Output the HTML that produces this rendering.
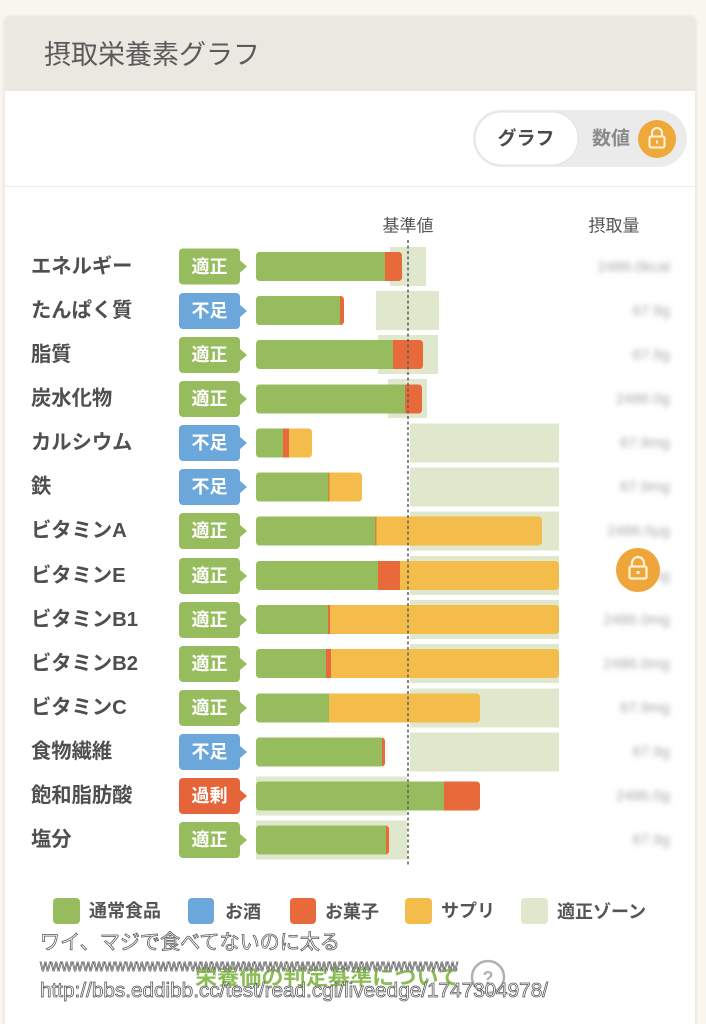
<!DOCTYPE html>
<html><head><meta charset="utf-8">
<style>
html,body{margin:0;padding:0;background:#f9f6ef;}
svg{display:block;}
text{font-family:"Liberation Sans","Noto Sans CJK JP",sans-serif;}
</style></head>
<body>
<svg width="706" height="1024" viewBox="0 0 706 1024" xmlns="http://www.w3.org/2000/svg">
<defs>
<filter id="bl" x="-20%" y="-60%" width="140%" height="220%"><feGaussianBlur stdDeviation="2.6"/></filter>
<filter id="sh" x="-5%" y="-5%" width="110%" height="110%"><feGaussianBlur stdDeviation="1.5"/></filter>
</defs>
<rect width="706" height="1024" fill="#f9f6ef"/>
<!-- card -->
<rect x="4" y="16" width="692" height="1030" rx="5" fill="#e6e2d8" filter="url(#sh)"/>
<rect x="5" y="17" width="690" height="1030" rx="4" fill="#ffffff"/>
<path d="M5 91 V21 a4 4 0 0 1 4 -4 H691 a4 4 0 0 1 4 4 V91 Z" fill="#ebe8e1"/>
<text x="44" y="55" font-size="27" fill="#5a5a5a" dominant-baseline="central">摂取栄養素グラフ</text>

<!-- toggle -->
<rect x="473" y="110" width="214" height="57" rx="28.5" fill="#ebebeb"/>
<rect x="475" y="112" width="103" height="53" rx="26.5" fill="#ffffff" stroke="#e2e2e2" stroke-width="1"/>
<text x="526" y="139" font-size="19" font-weight="bold" fill="#4a4a4a" text-anchor="middle" dominant-baseline="central">グラフ</text>
<text x="611" y="139" font-size="19" font-weight="bold" fill="#8a8a8a" text-anchor="middle" dominant-baseline="central">数値</text>
<circle cx="657" cy="139" r="19" fill="#efa83a"/>
<path d="M652 137 v-4 a5 5 0 0 1 10 0 v4" fill="none" stroke="#fff5dc" stroke-width="2"/>
<rect x="649.5" y="136.5" width="15" height="11" rx="1.5" fill="none" stroke="#fff5dc" stroke-width="2"/>
<rect x="656" y="140.5" width="2" height="3" fill="#fff5dc"/>

<line x1="5" y1="186.5" x2="695" y2="186.5" stroke="#ececec" stroke-width="1"/>

<text x="408" y="226" font-size="17" fill="#555" text-anchor="middle" dominant-baseline="central">基準値</text>
<text x="614" y="226" font-size="17" fill="#555" text-anchor="middle" dominant-baseline="central">摂取量</text>

<!-- zones -->
<g fill="#dfe8cd">
<rect x="390" y="247" width="36" height="39"/>
<rect x="376" y="291" width="63" height="39"/>
<rect x="378" y="335" width="60" height="39"/>
<rect x="388" y="379" width="39" height="39"/>
<rect x="410" y="423.5" width="149" height="39"/>
<rect x="410" y="467.5" width="149" height="39"/>
<rect x="410" y="511.5" width="149" height="39"/>
<rect x="410" y="556" width="149" height="39"/>
<rect x="410" y="600" width="149" height="39"/>
<rect x="410" y="644" width="149" height="39"/>
<rect x="410" y="688.5" width="149" height="39"/>
<rect x="410" y="732.5" width="149" height="39"/>
<rect x="256" y="776.5" width="151" height="39"/>
<rect x="256" y="820.5" width="151" height="39"/>
</g>

<!-- bars -->
<g>
<clipPath id="c1"><rect x="256" y="252" width="146" height="29" rx="3.5"/></clipPath>
<g clip-path="url(#c1)"><rect x="256" y="252" width="129" height="29" fill="#97bc5d"/><rect x="385" y="252" width="17" height="29" fill="#e8693a"/></g>

<clipPath id="c2"><rect x="256" y="296" width="88" height="29" rx="3.5"/></clipPath>
<g clip-path="url(#c2)"><rect x="256" y="296" width="84" height="29" fill="#97bc5d"/><rect x="340" y="296" width="4" height="29" fill="#e8693a"/></g>

<clipPath id="c3"><rect x="256" y="340" width="167" height="29" rx="3.5"/></clipPath>
<g clip-path="url(#c3)"><rect x="256" y="340" width="137" height="29" fill="#97bc5d"/><rect x="393" y="340" width="30" height="29" fill="#e8693a"/></g>

<clipPath id="c4"><rect x="256" y="384.5" width="166" height="29" rx="3.5"/></clipPath>
<g clip-path="url(#c4)"><rect x="256" y="384.5" width="149" height="29" fill="#97bc5d"/><rect x="405" y="384.5" width="17" height="29" fill="#e8693a"/></g>

<clipPath id="c5"><rect x="256" y="428.5" width="56" height="29" rx="3.5"/></clipPath>
<g clip-path="url(#c5)"><rect x="256" y="428.5" width="27" height="29" fill="#97bc5d"/><rect x="283" y="428.5" width="6" height="29" fill="#e8693a"/><rect x="289" y="428.5" width="23" height="29" fill="#f4bd4b"/></g>

<clipPath id="c6"><rect x="256" y="472.5" width="106" height="29" rx="3.5"/></clipPath>
<g clip-path="url(#c6)"><rect x="256" y="472.5" width="72" height="29" fill="#97bc5d"/><rect x="328" y="472.5" width="1.5" height="29" fill="#c9893f"/><rect x="329.5" y="472.5" width="33" height="29" fill="#f4bd4b"/></g>

<clipPath id="c7"><rect x="256" y="516.5" width="286" height="29" rx="3.5"/></clipPath>
<g clip-path="url(#c7)"><rect x="256" y="516.5" width="119" height="29" fill="#97bc5d"/><rect x="375" y="516.5" width="1.5" height="29" fill="#c9893f"/><rect x="376.5" y="516.5" width="166" height="29" fill="#f4bd4b"/></g>

<clipPath id="c8"><rect x="256" y="561" width="303" height="29" rx="3.5"/></clipPath>
<g clip-path="url(#c8)"><rect x="256" y="561" width="122" height="29" fill="#97bc5d"/><rect x="378" y="561" width="22" height="29" fill="#e8693a"/><rect x="400" y="561" width="159" height="29" fill="#f4bd4b"/></g>

<clipPath id="c9"><rect x="256" y="605" width="303" height="29" rx="3.5"/></clipPath>
<g clip-path="url(#c9)"><rect x="256" y="605" width="72" height="29" fill="#97bc5d"/><rect x="328" y="605" width="2" height="29" fill="#e8693a"/><rect x="330" y="605" width="229" height="29" fill="#f4bd4b"/></g>

<clipPath id="c10"><rect x="256" y="649" width="303" height="29" rx="3.5"/></clipPath>
<g clip-path="url(#c10)"><rect x="256" y="649" width="70" height="29" fill="#97bc5d"/><rect x="326" y="649" width="5" height="29" fill="#e8693a"/><rect x="331" y="649" width="228" height="29" fill="#f4bd4b"/></g>

<clipPath id="c11"><rect x="256" y="693.5" width="224" height="29" rx="3.5"/></clipPath>
<g clip-path="url(#c11)"><rect x="256" y="693.5" width="73" height="29" fill="#97bc5d"/><rect x="329" y="693.5" width="151" height="29" fill="#f4bd4b"/></g>

<clipPath id="c12"><rect x="256" y="737.5" width="129" height="29" rx="3.5"/></clipPath>
<g clip-path="url(#c12)"><rect x="256" y="737.5" width="126" height="29" fill="#97bc5d"/><rect x="382" y="737.5" width="3" height="29" fill="#e8693a"/></g>

<clipPath id="c13"><rect x="256" y="781.5" width="224" height="29" rx="3.5"/></clipPath>
<g clip-path="url(#c13)"><rect x="256" y="781.5" width="188" height="29" fill="#97bc5d"/><rect x="444" y="781.5" width="36" height="29" fill="#e8693a"/></g>

<clipPath id="c14"><rect x="256" y="825.5" width="133" height="29" rx="3.5"/></clipPath>
<g clip-path="url(#c14)"><rect x="256" y="825.5" width="130" height="29" fill="#97bc5d"/><rect x="386" y="825.5" width="3" height="29" fill="#e8693a"/></g>
</g>

<!-- dashed reference line -->
<line x1="408" y1="240" x2="408" y2="866" stroke="#5e5e5e" stroke-width="1.5" stroke-dasharray="3,2.5"/>

<!-- labels -->
<g font-size="20.3" font-weight="bold" fill="#4f4f4f" dominant-baseline="central">
<text x="31" y="267">エネルギー</text>
<text x="31" y="311">たんぱく質</text>
<text x="31" y="355">脂質</text>
<text x="31" y="399">炭水化物</text>
<text x="31" y="443">カルシウム</text>
<text x="31" y="487">鉄</text>
<text x="31" y="531">ビタミンA</text>
<text x="31" y="576">ビタミンE</text>
<text x="31" y="620">ビタミンB1</text>
<text x="31" y="664">ビタミンB2</text>
<text x="31" y="708">ビタミンC</text>
<text x="31" y="752">食物繊維</text>
<text x="31" y="796">飽和脂肪酸</text>
<text x="31" y="840">塩分</text>
</g>

<!-- badges -->
<g>
<g fill="#97bc5d">
<rect x="179" y="248.5" width="61" height="36" rx="4"/><path d="M239 259.5 L247 266.5 L239 273.5Z"/>
<rect x="179" y="337" width="61" height="36" rx="4"/><path d="M239 348 L247 355 L239 362Z"/>
<rect x="179" y="381" width="61" height="36" rx="4"/><path d="M239 392 L247 399 L239 406Z"/>
<rect x="179" y="513" width="61" height="36" rx="4"/><path d="M239 524 L247 531 L239 538Z"/>
<rect x="179" y="558" width="61" height="36" rx="4"/><path d="M239 569 L247 576 L239 583Z"/>
<rect x="179" y="602" width="61" height="36" rx="4"/><path d="M239 613 L247 620 L239 627Z"/>
<rect x="179" y="646" width="61" height="36" rx="4"/><path d="M239 657 L247 664 L239 671Z"/>
<rect x="179" y="690" width="61" height="36" rx="4"/><path d="M239 701 L247 708 L239 715Z"/>
<rect x="179" y="822" width="61" height="36" rx="4"/><path d="M239 833 L247 840 L239 847Z"/>
</g>
<g fill="#6ca7dc">
<rect x="179" y="293" width="61" height="36" rx="4"/><path d="M239 304 L247 311 L239 318Z"/>
<rect x="179" y="425" width="61" height="36" rx="4"/><path d="M239 436 L247 443 L239 450Z"/>
<rect x="179" y="469" width="61" height="36" rx="4"/><path d="M239 480 L247 487 L239 494Z"/>
<rect x="179" y="734" width="61" height="36" rx="4"/><path d="M239 745 L247 752 L239 759Z"/>
</g>
<g fill="#e5643a">
<rect x="179" y="778" width="61" height="36" rx="4"/><path d="M239 789 L247 796 L239 803Z"/>
</g>
<g font-size="18" font-weight="bold" fill="#ffffff" text-anchor="middle" dominant-baseline="central">
<text x="209.5" y="267">適正</text>
<text x="209.5" y="311">不足</text>
<text x="209.5" y="355">適正</text>
<text x="209.5" y="399">適正</text>
<text x="209.5" y="443">不足</text>
<text x="209.5" y="487">不足</text>
<text x="209.5" y="531">適正</text>
<text x="209.5" y="576">適正</text>
<text x="209.5" y="620">適正</text>
<text x="209.5" y="664">適正</text>
<text x="209.5" y="708">適正</text>
<text x="209.5" y="752">不足</text>
<text x="209.5" y="796">過剰</text>
<text x="209.5" y="840">適正</text>
</g>
</g>

<!-- blurred values -->
<g font-size="15" fill="#a8a8a8" text-anchor="end" dominant-baseline="central" filter="url(#bl)">
<text x="670" y="267">2486.0kcal</text>
<text x="670" y="311">67.9g</text>
<text x="670" y="355">67.9g</text>
<text x="670" y="399">2486.0g</text>
<text x="670" y="443">67.9mg</text>
<text x="670" y="487">67.9mg</text>
<text x="670" y="531">2486.0μg</text>
<text x="670" y="576">67.9mg</text>
<text x="670" y="620">2486.0mg</text>
<text x="670" y="664">2486.0mg</text>
<text x="670" y="708">67.9mg</text>
<text x="670" y="752">67.9g</text>
<text x="670" y="796">2486.0g</text>
<text x="670" y="840">67.9g</text>
</g>
<circle cx="638" cy="570" r="22" fill="#eea63a"/>
<path d="M632 567 v-4 a6 6 0 0 1 12 0 v4" fill="none" stroke="#fff3d6" stroke-width="2.2"/>
<rect x="629.5" y="566.5" width="17" height="12" rx="1.5" fill="none" stroke="#fff3d6" stroke-width="2.2"/>
<rect x="636.5" y="571" width="3" height="3" fill="#fff3d6"/>

<!-- legend -->
<rect x="53" y="898" width="27" height="26" rx="4" fill="#97bc5d"/>
<rect x="188" y="898" width="26" height="26" rx="4" fill="#6ca7dc"/>
<rect x="290" y="898" width="26" height="26" rx="4" fill="#e8693a"/>
<rect x="405" y="898" width="27" height="26" rx="4" fill="#f4bd4b"/>
<rect x="521" y="898" width="27" height="26" rx="4" fill="#dfe8cd"/>
<g font-size="18" font-weight="bold" fill="#555" dominant-baseline="central">
<text x="89" y="911">通常食品</text>
<text x="225" y="912">お酒</text>
<text x="325" y="912">お菓子</text>
<text x="441" y="911">サプリ</text>
<text x="557" y="912">適正ゾーン</text>
</g>

<!-- bottom link (under overlay) -->
<text x="195" y="978" font-size="21" font-weight="bold" fill="#8cbc55" dominant-baseline="central" textLength="265" lengthAdjust="spacingAndGlyphs">栄養価の判定基準について</text>
<circle cx="488" cy="977" r="16" fill="none" stroke="#b0b0b0" stroke-width="2.5"/>
<text x="488" y="978" font-size="18" font-weight="bold" fill="#b0b0b0" text-anchor="middle" dominant-baseline="central">?</text>

<!-- overlay caption text -->
<g fill="#ffffff" stroke="#555555" stroke-width="0.75">
<text x="40" y="949" font-size="20.5" textLength="300" lengthAdjust="spacingAndGlyphs">ワイ、マジで食べてないのに太る</text>
<text x="40" y="971" font-size="17" textLength="418" lengthAdjust="spacingAndGlyphs">wwwwwwwwwwwwwwwwwwwwwwwwwwwwwwwwwwwwwww</text>
<text x="40" y="997" font-size="20.5" textLength="508" lengthAdjust="spacingAndGlyphs">http://bbs.eddibb.cc/test/read.cgi/liveedge/1747304978/</text>
</g>
</svg>
</body></html>
